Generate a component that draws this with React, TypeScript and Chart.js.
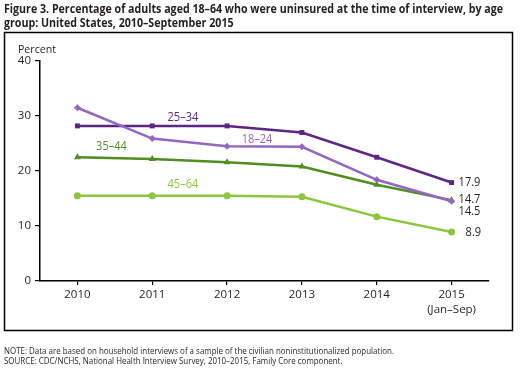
import React, { useEffect, useRef } from 'react';
import { Chart, registerables } from 'chart.js';
Chart.register(...registerables);

const years: (string | string[])[] = ['2010', '2011', '2012', '2013', '2014', ['2015', '(Jan–Sep)']];
const seriesNames = ['18–24', '25–34', '35–44', '45–64'];
const age18to24 = [31.5, 25.9, 24.5, 24.4, 18.4, 14.5];
const age25to34 = [28.2, 28.2, 28.2, 27.0, 22.5, 17.9];
const age35to44 = [22.5, 22.2, 21.6, 20.8, 17.5, 14.7];
const age45to64 = [15.5, 15.5, 15.5, 15.3, 11.7, 8.9];
const yTicks = [0, 10, 20, 30, 40];

const titleLines = [
  'Figure 3. Percentage of adults aged 18–64 who were uninsured at the time of interview, by age',
  'group: United States, 2010–September 2015',
];
const noteLines = [
  'NOTE: Data are based on household interviews of a sample of the civilian noninstitutionalized population.',
  'SOURCE: CDC/NCHS, National Health Interview Survey, 2010–2015, Family Core component.',
];

const colors = ['#9466c2', '#5e2587', '#4f8e1f', '#8cc63f'];
const FONT = '"Open Sans", "Noto Sans", sans-serif';
const TEXT = '#231f20';

// label placements (x index, y value) for series names
const nameSpots = [
  { x: 2.4, y: 25.8 },
  { x: 1.41, y: 29.8 },
  { x: 0.455, y: 24.4 },
  { x: 1.41, y: 17.6 },
];
// end value label pixel offsets from last point
const endOffsets = [
  { dx: 7, dy: 10 },
  { dx: 7, dy: 0 },
  { dx: 7, dy: -1 },
  { dx: 14, dy: 1 },
];

const seriesData = [age18to24, age25to34, age35to44, age45to64];
const pointStyles = ['rectRot', 'rect', 'triangle', 'circle'];
const pointRadii = [3.5, 3.5, 4, 3.5];

function fitText(ctx: CanvasRenderingContext2D, text: string, x: number, y: number, sx: number) {
  ctx.save();
  ctx.translate(x, y);
  ctx.scale(sx, 1);
  ctx.fillText(text, 0, 0);
  ctx.restore();
}

const decor = {
  id: 'decor',
  beforeDraw(chart: any) {
    const ctx = chart.ctx as CanvasRenderingContext2D;
    ctx.save();
    ctx.fillStyle = '#ffffff';
    ctx.fillRect(0, 0, chart.width, chart.height);
    ctx.restore();
  },
  afterDraw(chart: any) {
    const ctx = chart.ctx as CanvasRenderingContext2D;
    const xs = chart.scales.x;
    const ys = chart.scales.y;
    ctx.save();
    // title
    ctx.fillStyle = TEXT;
    ctx.textBaseline = 'middle';
    ctx.textAlign = 'left';
    ctx.font = `bold 12px ${FONT}`;
    const tw = ctx.measureText(titleLines[0]).width;
    const tsx = 499 / tw;
    fitText(ctx, titleLines[0], 4, 9.5, tsx);
    fitText(ctx, titleLines[1], 4, 23.5, tsx);
    // frame
    ctx.strokeStyle = '#000';
    ctx.lineWidth = 1.5;
    ctx.strokeRect(4.5, 32.5, 508, 298);
    // Percent
    ctx.font = `11.5px ${FONT}`;
    ctx.fillStyle = TEXT;
    fitText(ctx, 'Percent', 18, 49.5, 0.92);
    // notes
    ctx.font = `9px ${FONT}`;
    const nw = ctx.measureText(noteLines[0]).width;
    const nsx = 390 / nw;
    fitText(ctx, noteLines[0], 4, 351, nsx);
    fitText(ctx, noteLines[1], 4, 361, nsx);
    // series names
    ctx.font = `12px ${FONT}`;
    ctx.textAlign = 'center';
    seriesNames.forEach((n, i) => {
      ctx.fillStyle = colors[i];
      const px = xs.getPixelForValue(nameSpots[i].x);
      const py = ys.getPixelForValue(nameSpots[i].y);
      fitText(ctx, n, px, py, 0.92);
    });
    // end labels
    ctx.textAlign = 'left';
    ctx.fillStyle = TEXT;
    seriesData.forEach((d, i) => {
      const last = d.length - 1;
      const px = xs.getPixelForValue(last);
      const py = ys.getPixelForValue(d[last]);
      fitText(ctx, d[last].toFixed(1), px + endOffsets[i].dx, py + endOffsets[i].dy, 0.92);
    });
    ctx.restore();
  },
};

export default function App() {
  const ref = useRef<HTMLCanvasElement>(null);
  useEffect(() => {
    if (!ref.current) return;
    const chart = new Chart(ref.current, {
      type: 'line',
      data: {
        labels: years as any,
        datasets: seriesData.map((d, i) => ({
          label: seriesNames[i],
          data: d,
          borderColor: colors[i],
          backgroundColor: colors[i],
          borderWidth: 2.5,
          pointStyle: pointStyles[i] as any,
          pointRadius: pointRadii[i],
          pointBorderWidth: 0,
          tension: 0,
          fill: false,
          clip: false as any,
        })),
      },
      options: {
        animation: false,
        responsive: false,
        devicePixelRatio: 1,
        layout: { padding: { left: 0, top: 61, right: 35, bottom: 43 } },
        plugins: { legend: { display: false }, tooltip: { enabled: false }, title: { display: false } },
        scales: {
          x: {
            offset: true,
            grid: { display: true, drawOnChartArea: false, drawTicks: true, tickLength: 4, offset: false, color: '#000', lineWidth: 1.2 },
            border: { display: true, color: '#000', width: 1.5 },
            ticks: { color: TEXT, font: { family: FONT, size: 11.5, lineHeight: 1.25 }, padding: 3, maxRotation: 0 },
            afterFit: (s: any) => { s.height = 50; },
          },
          y: {
            min: 0,
            max: 40,
            afterBuildTicks: (s: any) => { s.ticks = yTicks.map((v) => ({ value: v })); },
            grid: { display: true, drawOnChartArea: false, drawTicks: true, tickLength: 5, color: '#000', lineWidth: 1.2 },
            border: { display: true, color: '#000', width: 1.5 },
            ticks: { color: TEXT, font: { family: FONT, size: 11.5 }, padding: 4 },
            afterFit: (s: any) => { s.width = 40; },
          },
        },
      },
      plugins: [decor],
    });
    return () => chart.destroy();
  }, []);
  return (
    <div style={{ position: 'absolute', left: 0, top: 0, width: 524, height: 374 }}>
      <canvas ref={ref} width={524} height={374} style={{ display: 'block', width: 524, height: 374 }} />
    </div>
  );
}
